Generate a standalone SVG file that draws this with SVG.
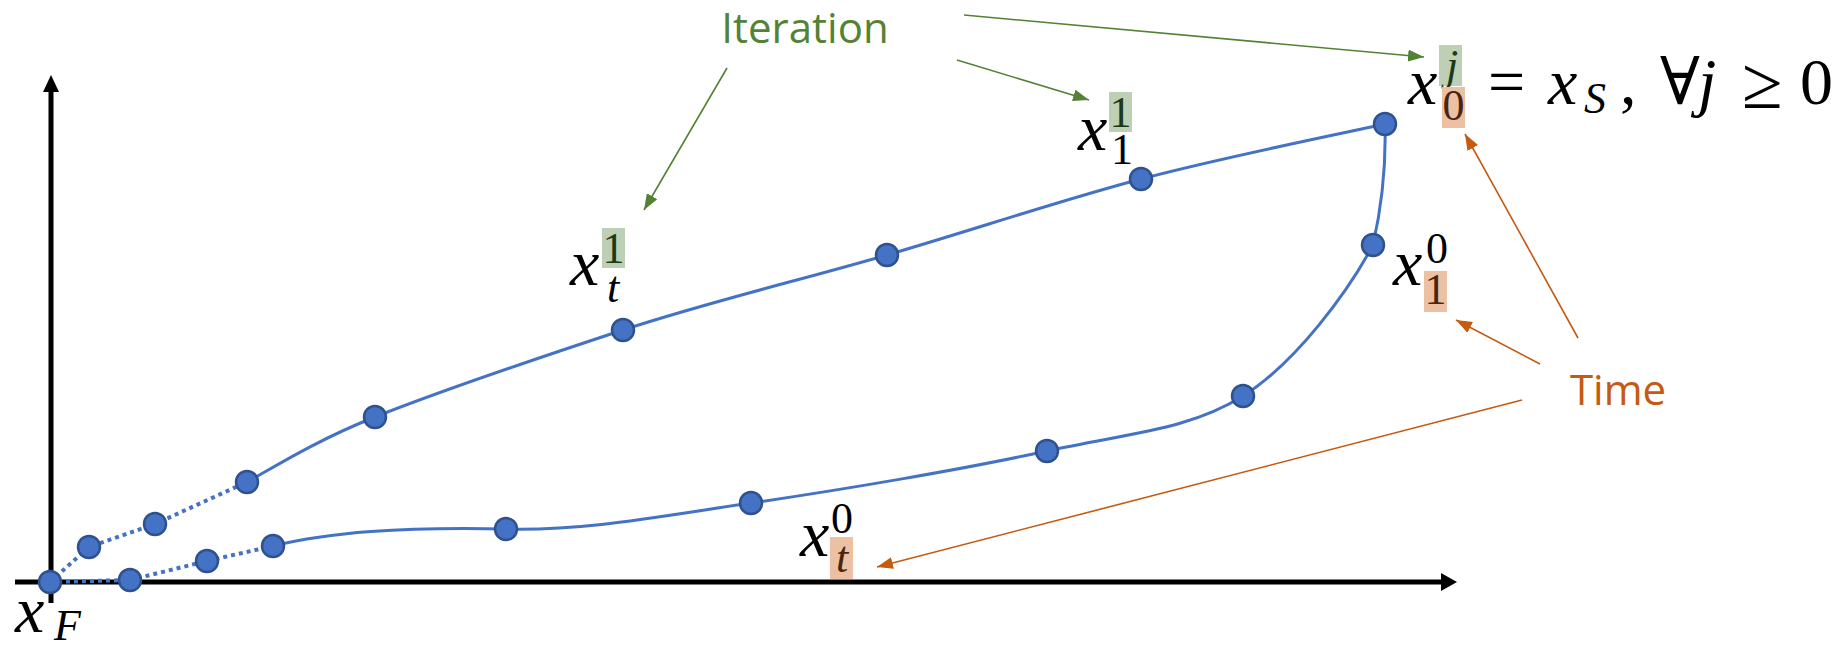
<svg xmlns="http://www.w3.org/2000/svg" width="1848" height="648" viewBox="0 0 1848 648">
<style>
.node{fill:#4472C4;stroke:#2F528F;stroke-width:2.5}
.curve{fill:none;stroke:#4472C4;stroke-width:3}
.dot{fill:none;stroke:#4472C4;stroke-width:4;stroke-dasharray:4 4}
.axis{stroke:#000;stroke-width:5;fill:none}
.garr{stroke:#548235;stroke-width:1.6;fill:none}
.oarr{stroke:#C55A11;stroke-width:1.6;fill:none}
.m{font-family:'Liberation Serif','DejaVu Serif',serif;fill:#000}
.mi{font-family:'Liberation Serif','DejaVu Serif',serif;font-style:italic;fill:#000}
.big{font-size:66px}
.sm{font-size:44px}
.gbox{fill:#BDD0B5}
.obox{fill:#EBC0A3}
.gt{fill:#1E3A14}
.ot{fill:#4A2410}
.lbl{font-family:'Open Sans','Noto Sans',sans-serif;font-size:42px}
</style>
<defs>
<marker id="ga" markerUnits="userSpaceOnUse" markerWidth="16" markerHeight="12" refX="16" refY="6" orient="auto"><path d="M0,0 L16,6 L0,12 z" fill="#548235"/></marker>
<marker id="oa" markerUnits="userSpaceOnUse" markerWidth="16" markerHeight="12" refX="16" refY="6" orient="auto"><path d="M0,0 L16,6 L0,12 z" fill="#C55A11"/></marker>
</defs>
<rect width="1848" height="648" fill="#fff"/>
<g id="axes">
<line class="axis" x1="51" y1="603" x2="51" y2="88"/>
<polygon points="51,75 43,92 59,92" fill="#000"/>
<line class="axis" x1="15" y1="582" x2="1444" y2="582"/>
<polygon points="1457,582 1441,573 1441,591" fill="#000"/>
</g>
<g id="connectors">
<path class="dot" d="M50,582 L89,547 L155,524 L247,482"/>
<path class="dot" d="M50,582 L130,580 L207,561 L273,546"/>
<path class="curve" d="M247,482 C268,471 312,442 375,417 C438,392 538,358 623,330 C708,302 801,280 887,255 C973,230 1058,201 1141,179 C1224,157 1344,133 1385,124"/>
<path class="curve" d="M273,546 C330,532 400,527 506,529 C586,531 661,516 751,503 C841,490 965,469 1047,451 C1129,433 1189,430 1243,396 C1297,362 1349,290 1373,245 C1382,205 1386,160 1385,124"/>
<line class="garr" x1="727" y1="68" x2="644" y2="210" marker-end="url(#ga)"/>
<line class="garr" x1="957" y1="60" x2="1089" y2="100" marker-end="url(#ga)"/>
<line class="garr" x1="964" y1="15" x2="1424" y2="57" marker-end="url(#ga)"/>
<line class="oarr" x1="1578" y1="338" x2="1465" y2="134" marker-end="url(#oa)"/>
<line class="oarr" x1="1540" y1="364" x2="1456" y2="320" marker-end="url(#oa)"/>
<line class="oarr" x1="1522" y1="400" x2="877" y2="567" marker-end="url(#oa)"/>
</g>
<g id="nodes">
<circle id="n-xF" class="node" cx="50" cy="582" r="11"/>
<circle id="n-u1" class="node" cx="89" cy="547" r="11"/>
<circle id="n-u2" class="node" cx="155" cy="524" r="11"/>
<circle id="n-u3" class="node" cx="247" cy="482" r="11"/>
<circle id="n-u4" class="node" cx="375" cy="417" r="11"/>
<circle id="n-u5" class="node" cx="623" cy="330" r="11"/>
<circle id="n-u6" class="node" cx="887" cy="255" r="11"/>
<circle id="n-u7" class="node" cx="1141" cy="179" r="11"/>
<circle id="n-xS" class="node" cx="1385" cy="124" r="11"/>
<circle id="n-l1" class="node" cx="130" cy="580" r="11"/>
<circle id="n-l2" class="node" cx="207" cy="561" r="11"/>
<circle id="n-l3" class="node" cx="273" cy="546" r="11"/>
<circle id="n-l4" class="node" cx="506" cy="529" r="11"/>
<circle id="n-l5" class="node" cx="751" cy="503" r="11"/>
<circle id="n-l6" class="node" cx="1047" cy="451" r="11"/>
<circle id="n-l7" class="node" cx="1243" cy="396" r="11"/>
<circle id="n-l8" class="node" cx="1373" cy="245" r="11"/>
</g>
<g id="label-iteration"><text class="lbl" x="805" y="43" text-anchor="middle" fill="#548235">Iteration</text></g>
<g id="label-time"><text class="lbl" x="1618" y="405" text-anchor="middle" fill="#C55A11">Time</text></g>
<g id="label-x0j">
<text class="mi big" x="1408" y="104">x</text>
<rect class="gbox" x="1439" y="45" width="23" height="41"/>
<text class="mi sm gt" x="1452" y="80" text-anchor="middle">j</text>
<rect class="obox" x="1442" y="87" width="23" height="41"/>
<text class="m sm ot" x="1453.5" y="120" text-anchor="middle">0</text>
<text class="m big" x="1488" y="104">=</text>
<text class="mi big" x="1548" y="104">x</text>
<text class="mi sm" x="1584" y="113">S</text>
<text class="m big" x="1620" y="104">,</text>
<text class="m big" x="1660" y="104">∀</text>
<text class="mi big" x="1698" y="104">j</text>
<text class="m" style="font-size:74px" x="1742" y="108">≥</text>
<text class="m big" x="1800" y="104">0</text>
</g>
<g id="label-x11">
<text class="mi big" x="1078" y="150">x</text>
<rect class="gbox" x="1109" y="92" width="23" height="40"/>
<text class="m sm gt" x="1120.5" y="127" text-anchor="middle">1</text>
<text class="m sm" x="1122" y="164" text-anchor="middle">1</text>
</g>
<g id="label-xt1">
<text class="mi big" x="570" y="285">x</text>
<rect class="gbox" x="602" y="228" width="23" height="40"/>
<text class="m sm gt" x="613.5" y="263" text-anchor="middle">1</text>
<text class="mi sm" x="613" y="302" text-anchor="middle">t</text>
</g>
<g id="label-x10">
<text class="mi big" x="1393" y="285">x</text>
<text class="m sm" x="1437" y="263" text-anchor="middle">0</text>
<rect class="obox" x="1424" y="271" width="23" height="41"/>
<text class="m sm ot" x="1435.5" y="304" text-anchor="middle">1</text>
</g>
<g id="label-xt0">
<text class="mi big" x="800" y="556">x</text>
<text class="m sm" x="842" y="533" text-anchor="middle">0</text>
<rect class="obox" x="830" y="537" width="23" height="42"/>
<text class="mi sm ot" x="842" y="572" text-anchor="middle">t</text>
</g>
<g id="label-xF">
<text class="mi big" x="15" y="632">x</text>
<text class="mi sm" x="54" y="640">F</text>
</g>
</svg>
